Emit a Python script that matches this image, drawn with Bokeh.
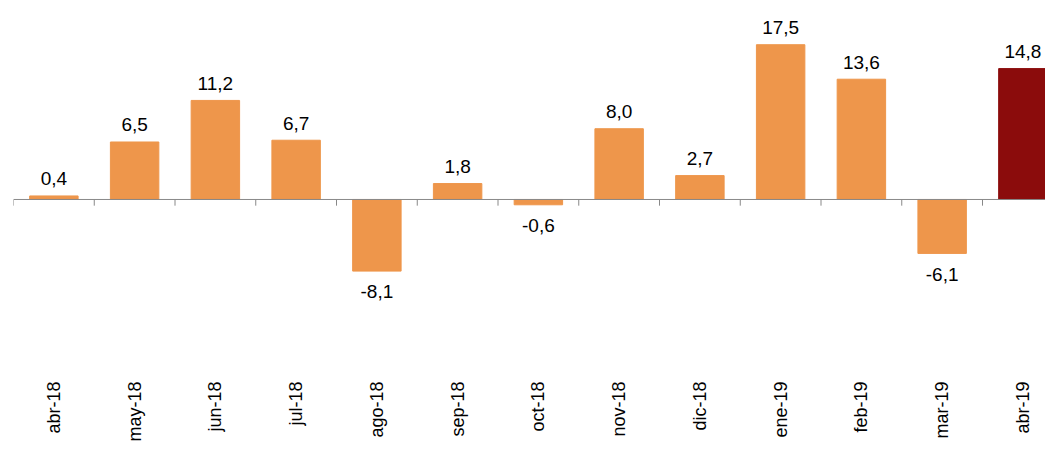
from bokeh.plotting import figure
from bokeh.models import ColumnDataSource, FixedTicker, Span
from bokeh.embed import file_html
from bokeh.resources import INLINE
from bokeh.core.properties import value

months = ["abr-18","may-18","jun-18","jul-18","ago-18","sep-18","oct-18","nov-18","dic-18","ene-19","feb-19","mar-19","abr-19"]
values = [0.4,6.5,11.2,6.7,-8.1,1.8,-0.6,8.0,2.7,17.5,13.6,-6.1,14.8]
colors = ["#EE964B"]*12 + ["#8B0C0C"]

n = len(months)
xs = [i + 0.5 for i in range(n)]
labels = [f"{v:.1f}".replace(".", ",") for v in values]
ly = [v + 1.2 if v >= 0 else v - 1.6 for v in values]
base = ["bottom" if v >= 0 else "top" for v in values]
src = ColumnDataSource(dict(x=xs, top=values, color=colors, label=labels, ly=ly, base=base))

p = figure(width=1045, height=444, x_range=(0, 12.78), y_range=(-19.0, 22.5),
           output_backend="svg", toolbar_location=None,
           min_border_left=13, min_border_right=0, min_border_top=0, min_border_bottom=0)
p.vbar(x="x", top="top", bottom=0, width=0.6, color="color", source=src)
p.text(x="x", y="ly", text="label", source=src, text_align="center", text_baseline="base",
       text_font=value("Liberation Sans"), text_font_size="19px", text_color="black")
p.add_layout(Span(location=0, dimension="width", line_color="#888888", line_width=1))
bx = list(range(n + 1))
p.segment(x0=bx, x1=bx, y0=[0]*len(bx), y1=[-0.7]*len(bx), line_color="#888888", line_width=1)

p.xaxis.ticker = FixedTicker(ticks=xs)
p.xaxis.major_label_overrides = {x: m for x, m in zip(xs, months)}
p.xaxis.major_label_orientation = 1.5708
p.xaxis.major_label_text_font = "Liberation Sans"
p.xaxis.major_label_text_font_size = "18px"
p.xaxis.major_label_text_color = "black"
p.xaxis.major_label_standoff = 8
p.xaxis.axis_line_color = None
p.xaxis.major_tick_line_color = None
p.xaxis.minor_tick_line_color = None
p.yaxis.visible = False
p.grid.visible = False
p.outline_line_color = None

open("out.html", "w").write(file_html(p, INLINE))
